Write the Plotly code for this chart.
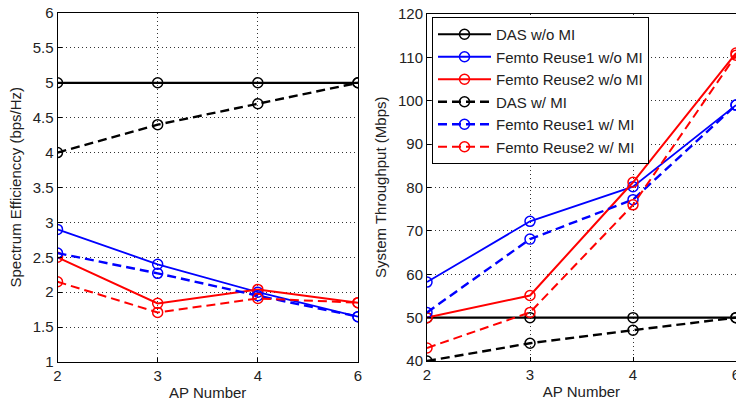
import plotly.graph_objects as go

# ---- data ----
ap_numbers = ["2", "3", "4", "6"]

series_names = [
    "DAS w/o MI",
    "Femto Reuse1 w/o MI",
    "Femto Reuse2 w/o MI",
    "DAS w/ MI",
    "Femto Reuse1 w/ MI",
    "Femto Reuse2 w/ MI",
]

# Spectrum efficiency (bps/Hz)
se_das_wo = [5.0, 5.0, 5.0, 5.0]
se_reuse1_wo = [2.9, 2.4, 2.0, 1.65]
se_reuse2_wo = [2.5, 1.84, 2.04, 1.85]
se_das_w = [4.0, 4.4, 4.7, 5.0]
se_reuse1_w = [2.56, 2.27, 1.95, 1.65]
se_reuse2_w = [2.15, 1.71, 1.91, 1.85]

# System throughput (Mbps)
tp_das_wo = [50, 50, 50, 50]
tp_reuse1_wo = [58.2, 72.2, 80.2, 99]
tp_reuse2_wo = [50, 55.1, 81.2, 111]
tp_das_w = [40, 44.1, 47.1, 50]
tp_reuse1_w = [51.2, 68.1, 77.2, 99]
tp_reuse2_w = [43, 51.2, 76, 110.5]

se_series = [se_das_wo, se_reuse1_wo, se_reuse2_wo, se_das_w, se_reuse1_w, se_reuse2_w]
tp_series = [tp_das_wo, tp_reuse1_wo, tp_reuse2_wo, tp_das_w, tp_reuse1_w, tp_reuse2_w]

colors = ["#000000", "#0000FF", "#FF0000", "#000000", "#0000FF", "#FF0000"]
dashes = ["solid", "solid", "solid", "9px,5px", "9px,5px", "9px,5px"]
widths = [2.2, 1.8, 2.0, 2.4, 2.4, 2.0]

FONT = "Liberation Sans, Arial, sans-serif"
W, H = 736, 406

def px_x(v):
    return v / W

def px_y(v):
    return 1 - v / H

fig = go.Figure()

for i, name in enumerate(series_names):
    common = dict(
        mode="lines+markers",
        line=dict(color=colors[i], width=widths[i], dash=dashes[i]),
        marker=dict(symbol="circle-open", size=10, color=colors[i],
                    line=dict(color=colors[i], width=1.5)),
        name=name,
        legendgroup=f"g{i}",
    )
    fig.add_trace(go.Scatter(x=ap_numbers, y=se_series[i], xaxis="x", yaxis="y",
                             showlegend=False, **common))
    fig.add_trace(go.Scatter(x=ap_numbers, y=tp_series[i], xaxis="x2", yaxis="y2",
                             showlegend=True, **common))

axis_common = dict(
    showline=True, linecolor="black", linewidth=1, mirror=True,
    showgrid=True, gridcolor="#333333", gridwidth=1, griddash="1px,3px",
    zeroline=False, ticks="inside", ticklen=4, tickcolor="black",
    tickfont=dict(family=FONT, size=15, color="#222222"),
    automargin=False,
)

fig.update_layout(
    width=W, height=H,
    margin=dict(l=0, r=0, t=0, b=0),
    paper_bgcolor="white", plot_bgcolor="white",
    font=dict(family=FONT, size=15, color="#222222"),
    xaxis=dict(domain=[px_x(57.5), px_x(358)], type="category",
               categoryorder="array", categoryarray=ap_numbers,
               range=[0, 3], anchor="y",
               title=dict(text="AP Number", font=dict(size=15), standoff=4),
               **axis_common),
    yaxis=dict(domain=[px_y(362), px_y(13)], range=[1, 6], dtick=0.5,
               anchor="x", **axis_common),
    xaxis2=dict(domain=[px_x(427), px_x(736)], type="category",
                categoryorder="array", categoryarray=ap_numbers,
                range=[0, 3], anchor="y2",
                title=dict(text="AP Number", font=dict(size=15), standoff=4),
                **axis_common),
    yaxis2=dict(domain=[px_y(361), px_y(14)], range=[40, 120], dtick=10,
                anchor="x2", **axis_common),
    legend=dict(
        x=px_x(432), y=px_y(17), xanchor="left", yanchor="top",
        bgcolor="white", bordercolor="black", borderwidth=1,
        font=dict(family=FONT, size=15, color="#222222"),
        tracegroupgap=0, itemwidth=53,
    ),
    annotations=[
        dict(text="Spectrum Efficienccy (bps/Hz)", textangle=-90,
             x=px_x(15), y=px_y(187.5), xref="paper", yref="paper",
             xanchor="center", yanchor="middle", showarrow=False,
             font=dict(family=FONT, size=15, color="#222222")),
        dict(text="System Throughput (Mbps)", textangle=-90,
             x=px_x(380), y=px_y(188), xref="paper", yref="paper",
             xanchor="center", yanchor="middle", showarrow=False,
             font=dict(family=FONT, size=15, color="#222222")),
    ],
)

fig.write_html("out.html", config={"displayModeBar": False},
               post_script="document.body.style.margin='0';")
